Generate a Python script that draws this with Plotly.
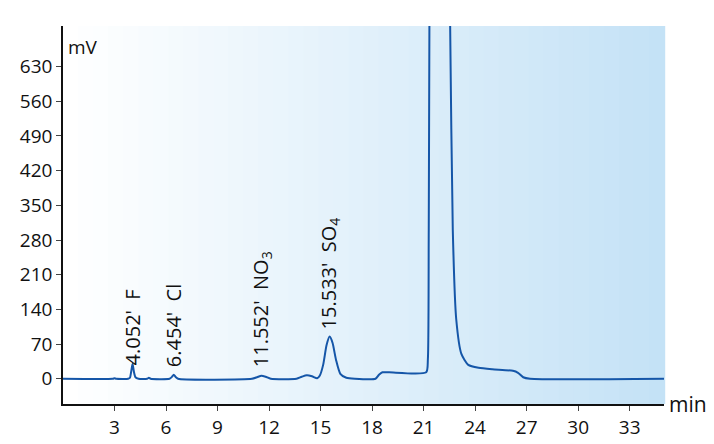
import plotly.graph_objects as go

time_min = [0, 2.9, 3.0, 3.1, 3.8, 3.9, 3.97, 4.05, 4.13, 4.22, 4.4, 4.9, 5.0, 5.1, 6.2, 6.35, 6.45, 6.55, 6.7, 11.0, 11.3, 11.55, 11.8, 12.1, 13.6, 13.9, 14.2, 14.5, 14.8, 14.95, 15.15, 15.35, 15.53, 15.7, 15.9, 16.15, 16.5, 17.0, 18.2, 18.4, 18.6, 19.0, 21.15, 21.25, 21.3, 21.4, 21.8, 22.1, 22.4, 22.55, 22.7, 22.9, 23.2, 23.6, 24.2, 25.0, 26.2, 26.5, 26.8, 27.2, 35.0]
signal_mv = [0, 0, 1, 0, 0, 2, 14, 30, 14, 3, 0, 0, 2, 0, 0, 4, 8, 4, 0, 0, 3, 6, 4, 0, 0, 4, 7, 5, 1, 6, 28, 68, 85, 72, 38, 10, 2, 0, 0, 8, 13, 13, 13, 40, 300, 1200, 2200, 2000, 1200, 700, 300, 120, 50, 28, 22, 19, 16, 12, 3, 0, 0]

labels = ["4.052'  F", "6.454'  Cl", "11.552'  NO<sub>3</sub>", "15.533'  SO<sub>4</sub>"]
label_x = [4.052, 6.454, 11.552, 15.533]
label_y = [22, 20, 20, 95]

fig = go.Figure()
n = 40
c0 = (255, 255, 255); c1 = (196, 226, 246)
for i in range(n):
    t = i / (n - 1)
    col = tuple(round(c0[k] + (c1[k] - c0[k]) * t) for k in range(3))
    fig.add_shape(type="rect", xref="x domain", yref="y domain", x0=i / n, x1=(i + 1) / n + 0.002,
                  y0=0, y1=1, fillcolor="rgb(%d,%d,%d)" % col, line_width=0, layer="below")

fig.add_trace(go.Scatter(x=time_min, y=signal_mv, mode="lines", line=dict(color="#1556a8", width=2, shape="spline", smoothing=0.6),
                         hoverinfo="skip", showlegend=False))

for t, x, y in zip(labels, label_x, label_y):
    fig.add_annotation(x=x, y=y, text=t, textangle=-90, showarrow=False, xanchor="center", yanchor="bottom",
                       font=dict(size=20, color="#111"))

fig.add_annotation(xref="paper", yref="paper", x=0.005, y=0.985, text="mV", showarrow=False, xanchor="left", yanchor="top",
                   font=dict(size=19, color="#111"))
fig.add_annotation(xref="paper", yref="paper", x=1.005, y=0, text="min", showarrow=False, xanchor="left", yanchor="middle",
                   font=dict(size=21, color="#111"))

fig.update_layout(width=714, height=444, margin=dict(l=54, r=58, t=18, b=36), paper_bgcolor="white", plot_bgcolor="white",
                  font=dict(family="Open Sans, sans-serif", size=19, color="#111"))
fig.update_xaxes(range=[0, 35], tickvals=[3, 6, 9, 12, 15, 18, 21, 24, 27, 30, 33], ticks="outside", ticklen=5,
                 tickfont=dict(size=19), showline=True, linecolor="#111", linewidth=1.5, showgrid=False, zeroline=False)
fig.update_yaxes(range=[-51, 712], tickvals=[0, 70, 140, 210, 280, 350, 420, 490, 560, 630], ticks="outside", ticklen=5,
                 tickfont=dict(size=19), showline=True, linecolor="#111", linewidth=1.5, showgrid=False, zeroline=False)
fig.write_html("out.html")
